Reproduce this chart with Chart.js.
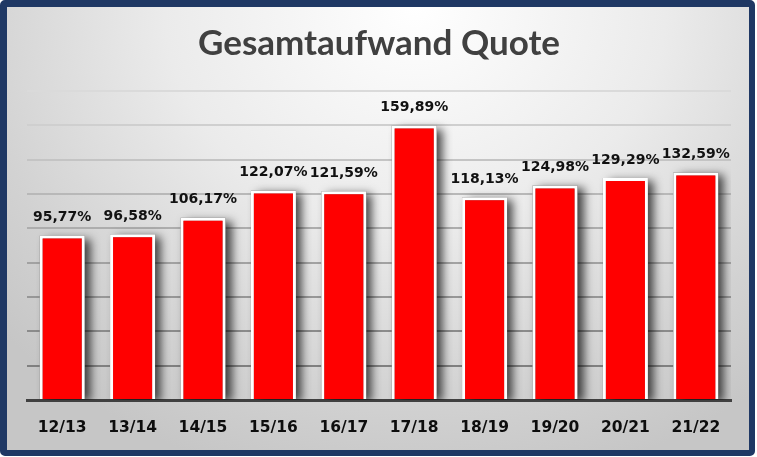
<!DOCTYPE html>
<html><head><meta charset="utf-8">
<script src="https://cdn.jsdelivr.net/npm/chart.js@4"></script>
<style>
html,body{margin:0;padding:0;background:#fff;}
#frame{position:absolute;left:0;top:0;width:755px;height:456px;box-sizing:border-box;
 border-style:solid;border-color:#1f3864;border-width:7px 6px 6px 7px;border-radius:5px;
 background:radial-gradient(ellipse 75% 110% at 55% 0%, #ffffff 0%, #ebebeb 45%, #d2d2d2 80%, #c6c6c6 100%);}
#wrap{position:absolute;left:0;top:0;width:757px;height:457px;}
</style></head>
<body>
<div id="frame"></div>
<div id="wrap"><canvas id="c" width="757" height="457"></canvas></div>
<script>
const categories = ["12/13","13/14","14/15","15/16","16/17","17/18","18/19","19/20","20/21","21/22"];
const quote = [95.77, 96.58, 106.17, 122.07, 121.59, 159.89, 118.13, 124.98, 129.29, 132.59];
const titleText = "Gesamtaufwand Quote";

const fmt = v => v.toFixed(2).replace('.', ',') + '%';

const shadowPlugin = {
  id: 'barShadow',
  beforeDatasetsDraw(chart) {
    const ctx = chart.ctx;
    const meta = chart.getDatasetMeta(0);
    ctx.save();
    ctx.beginPath();
    ctx.rect(chart.chartArea.left, 0, chart.chartArea.right - chart.chartArea.left, chart.chartArea.bottom);
    ctx.clip();
    meta.data.forEach(bar => {
      const p = bar.getProps(['x','y','base','width'], true);
      ctx.save();
      ctx.shadowColor = 'rgba(0,0,0,0.7)';
      ctx.shadowBlur = 9;
      ctx.shadowOffsetX = 6;
      ctx.shadowOffsetY = 3;
      ctx.fillStyle = '#808080';
      ctx.fillRect(p.x - p.width/2, p.y, p.width, p.base - p.y);
      ctx.restore();
    });
    ctx.restore();
  }
};

const labelPlugin = {
  id: 'valueLabels',
  afterDatasetsDraw(chart) {
    const ctx = chart.ctx;
    const meta = chart.getDatasetMeta(0);
    ctx.save();
    ctx.font = 'bold 14px "DejaVu Sans"';
    ctx.fillStyle = '#111111';
    ctx.textAlign = 'center';
    ctx.textBaseline = 'middle';
    meta.data.forEach((bar, i) => {
      const p = bar.getProps(['x','y'], true);
      ctx.fillText(fmt(quote[i]), p.x, p.y - 18);
    });
    ctx.restore();
  }
};

const gridColor = (v) => {
  if (v === 0) return 'rgba(0,0,0,0)';
  const t = Math.min(1, Math.max(0, (v - 20) / 160));
  const c = Math.round(128 + t * (218 - 128));
  return `rgb(${c},${c},${c})`;
};

new Chart(document.getElementById('c'), {
  type: 'bar',
  data: {
    labels: categories,
    datasets: [{
      data: quote,
      backgroundColor: '#ff0000',
      borderColor: '#ffffff',
      borderWidth: 3,
      borderSkipped: 'bottom',
      categoryPercentage: 1.0,
      barPercentage: 0.64
    }]
  },
  options: {
    responsive: false,
    animation: false,
    devicePixelRatio: 1,
    layout: { padding: { left: 27, right: 26, top: 0, bottom: 0 } },
    plugins: {
      legend: { display: false },
      tooltip: { enabled: false },
      title: {
        display: true,
        text: titleText,
        color: '#404040',
        font: { family: 'Lato', weight: 'bold', size: 35, lineHeight: 1.2 },
        padding: { top: 23, bottom: 26 }
      }
    },
    scales: {
      y: {
        min: 0, max: 180,
        ticks: { display: false, stepSize: 20 },
        border: { display: false },
        grid: { color: ctx => gridColor(ctx.tick.value), lineWidth: 2, drawTicks: false },
        afterFit(s) { s.width = 0; }
      },
      x: {
        ticks: { color: '#0d0d0d', font: { family: 'DejaVu Sans', weight: 'bold', size: 15.5 }, padding: 19 },
        grid: { display: false, drawTicks: false },
        border: { display: true, color: '#404040', width: 3 },
        afterFit(s) { s.height = 57; }
      }
    }
  },
  plugins: [shadowPlugin, labelPlugin]
});
</script>
</body></html>
